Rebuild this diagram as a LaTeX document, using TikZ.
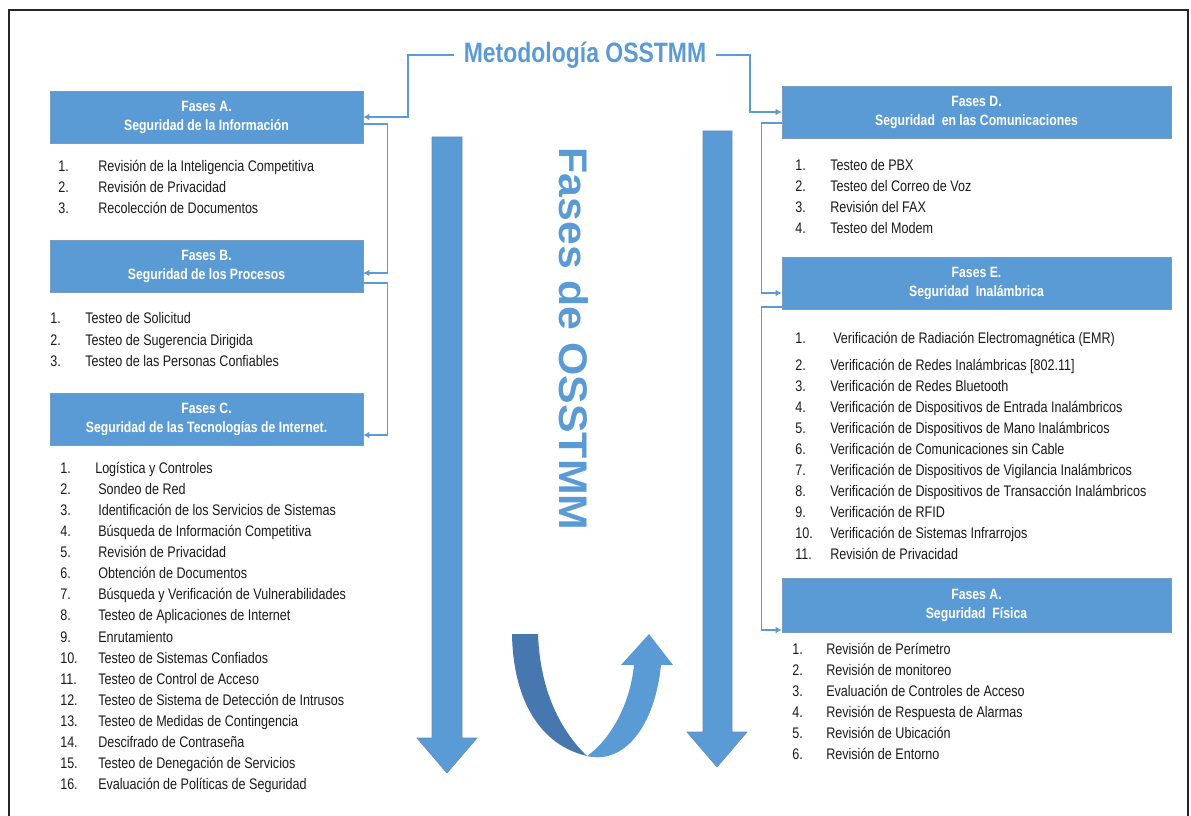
\documentclass[tikz,border=0pt]{standalone}
\usepackage{fontspec}
\setmainfont{Liberation Sans}[FakeStretch=0.82]
\newfontfamily\widefont{Liberation Sans}
\usetikzlibrary{arrows.meta,calc}
\definecolor{boxblue}{HTML}{5B9BD5}
\definecolor{edgeblue}{HTML}{41719C}
\definecolor{ublue}{HTML}{4677AE}
\definecolor{itemgray}{HTML}{1A1A1A}
\tikzset{
  hdr/.style={rectangle, fill=boxblue, draw=edgeblue!70, line width=0.5pt, text=white,
    align=center, font=\bfseries\fontsize{11.2}{14.25}\selectfont, inner sep=0pt},
  lhdr/.style={hdr, minimum width=234.75pt, minimum height=39pt},
  rhdr/.style={hdr, minimum width=291.75pt, minimum height=39pt},
  item/.style={anchor=west, inner sep=0pt, text height=8.5pt, text depth=2.5pt,
    text=itemgray, font=\fontsize{11.5}{13}\selectfont},
  conn/.style={draw=boxblue, line width=0.8pt, -{Latex[length=4.5pt,width=5pt]}},
  bigarrow/.style={fill=boxblue, draw=edgeblue!80, line width=0.5pt},
}
\begin{document}
\begin{tikzpicture}[x=0.75pt,y=-0.75pt]
\useasboundingbox (0,0) rectangle (1191,816);
\draw[line width=1.1pt, black!85] (9,816) -- (9,10) -- (1188,10) -- (1188,816);

% title
\node[text=boxblue, font=\bfseries\fontsize{21}{25}\selectfont, inner xsep=7.5pt, inner ysep=0pt] (title) at (585,55) {Metodología OSSTMM};

% header boxes
\node[lhdr] (boxA) at (206.5,117) {Fases A.\\Seguridad de la Información};
\node[lhdr] (boxB) at (206.5,266) {Fases B.\\Seguridad de los Procesos};
\node[lhdr] (boxC) at (206.5,419) {Fases C.\\Seguridad de las Tecnologías de Internet.};
\node[rhdr] (boxD) at (976.5,112) {Fases D.\\Seguridad\ \ en las Comunicaciones};
\node[rhdr] (boxE) at (976.5,283) {Fases E.\\Seguridad\ \ Inalámbrica};
\node[rhdr, minimum height=40.5pt] (boxF) at (976.5,605) {Fases A.\\Seguridad\ \ Física};

% connectors
\coordinate (lb) at (408,117);
\coordinate (rb) at (750,112);
\draw[conn] (title.west) -| (lb) -- (boxA.east);
\draw[conn] (title.east) -| (rb) -- (boxD.west);
\draw[conn] ([yshift=-5.25pt]boxA.east) -- ++(24,0) |- ([yshift=-5.25pt]boxB.east);
\draw[conn] ([yshift=-12.75pt]boxB.east) -- ++(24,0) |- ([yshift=-12pt]boxC.east);
\draw[conn] ([yshift=-8.25pt]boxD.west) -- ++(-20,0) |- ([yshift=-7.5pt]boxE.west);
\draw[conn] ([yshift=-18pt]boxE.west) -- ++(-20,0) |- ([yshift=-18.75pt]boxF.west);

% lists
\foreach \t [count=\i] in {Revisión de la Inteligencia Competitiva, Revisión de Privacidad, Recolección de Documentos}{
  \node[item] (an\i) at (58,{168+21*(\i-1)}) {\i.};
  \node[item] (at\i) at (98,{168+21*(\i-1)}) {\t};
}
\foreach \t [count=\i] in {Testeo de Solicitud, Testeo de Sugerencia Dirigida, Testeo de las Personas Confiables}{
  \node[item] (bn\i) at (50,{320+21*(\i-1)}) {\i.};
  \node[item] (bt\i) at (85,{320+21*(\i-1)}) {\t};
}
\foreach \t [count=\i] in {Logística y Controles, Sondeo de Red, Identificación de los Servicios de Sistemas,
  Búsqueda de Información Competitiva, Revisión de Privacidad, Obtención de Documentos,
  Búsqueda y Verificación de Vulnerabilidades, Testeo de Aplicaciones de Internet, Enrutamiento,
  Testeo de Sistemas Confiados, Testeo de Control de Acceso, Testeo de Sistema de Detección de Intrusos,
  Testeo de Medidas de Contingencia, Descifrado de Contraseña, Testeo de Denegación de Servicios,
  Evaluación de Políticas de Seguridad}{
  \node[item] (cn\i) at (60,{469+21.13*(\i-1)}) {\i.};
  \node[item] (ct\i) at ({\i==1 ? 95 : 98},{469+21.13*(\i-1)}) {\t};
}
\foreach \t [count=\i] in {Testeo de PBX, Testeo del Correo de Voz, Revisión del FAX, Testeo del Modem}{
  \node[item] (dn\i) at (795,{167+20.7*(\i-1)}) {\i.};
  \node[item] (dt\i) at (830,{167+20.7*(\i-1)}) {\t};
}
\foreach \t [count=\i] in {Verificación de Radiación Electromagnética (EMR),
  {Verificación de Redes Inalámbricas [802.11]}, Verificación de Redes Bluetooth,
  Verificación de Dispositivos de Entrada Inalámbricos, Verificación de Dispositivos de Mano Inalámbricos,
  Verificación de Comunicaciones sin Cable, Verificación de Dispositivos de Vigilancia Inalámbricos,
  Verificación de Dispositivos de Transacción Inalámbricos, Verificación de RFID,
  Verificación de Sistemas Infrarrojos, Revisión de Privacidad}{
  \node[item] (en\i) at (795,{\i==1 ? 340 : 366+21*(\i-2)}) {\i.};
  \node[item] (et\i) at ({\i==1 ? 833 : 830},{\i==1 ? 340 : 366+21*(\i-2)}) {\t};
}
\foreach \t [count=\i] in {Revisión de Perímetro, Revisión de monitoreo, Evaluación de Controles de Acceso,
  Revisión de Respuesta de Alarmas, Revisión de Ubicación, Revisión de Entorno}{
  \node[item] (fn\i) at (792,{650+21*(\i-1)}) {\i.};
  \node[item] (ft\i) at (826,{650+21*(\i-1)}) {\t};
}

% big arrows
\draw[bigarrow] (432,137) -- (462,137) -- (462,738) -- (477,738) -- (447,773) -- (417,738) -- (432,738) -- cycle;
\draw[bigarrow] (703,131) -- (732,131) -- (732,732) -- (747,732) -- (717,767) -- (687,732) -- (703,732) -- cycle;

% vertical text
\node[text=boxblue, font=\widefont\bfseries\fontsize{30}{36}\selectfont, rotate=-90, inner sep=0pt] (vert) at (574,339) {\scalebox{1.07}[1]{Fases de OSSTMM}};

% U-turn arrow
\fill[ublue] (512,634) .. controls (513,700) and (540,745) .. (587,756)
  .. controls (560,730) and (540,690) .. (538,634) -- cycle;
\fill[boxblue] (587,756) .. controls (610,740) and (630,705) .. (634,665) -- (621,665) -- (649,634)
  -- (673,665) -- (661,665) .. controls (655,725) and (625,765) .. (587,756) -- cycle;
\end{tikzpicture}
\end{document}
